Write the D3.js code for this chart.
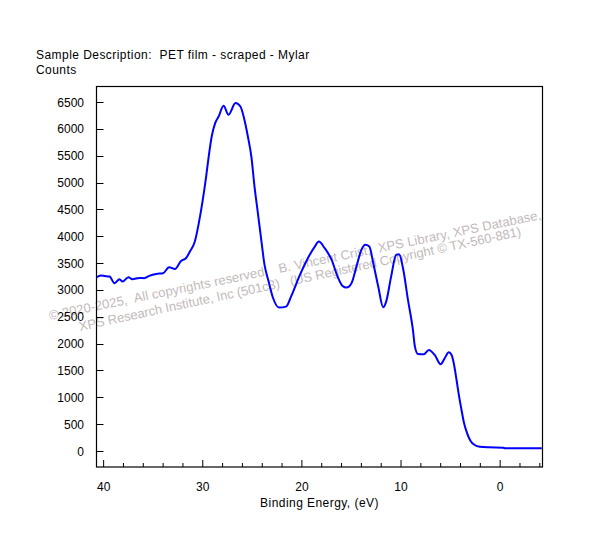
<!DOCTYPE html>
<html><head><meta charset="utf-8">
<script src="https://cdn.jsdelivr.net/npm/d3@7"></script>
<style>body{margin:0;background:#fff}svg{display:block}text{font-family:Arial,"Liberation Sans",sans-serif;white-space:pre}</style>
</head><body>
<script>
const energy = [40.7,40.3,39.9,39.4,38.9,38.4,38.1,37.5,37.1,36.4,35.9,35.4,34.7,34.0,33.4,32.8,32.2,31.7,31.3,30.8,30.4,30.0,29.66,29.4,29.1,28.75,28.4,27.9,27.4,26.7,26.2,25.8,25.45,25.1,24.78,24.44,24.1,23.77,23.4,22.9,22.3,21.6,21.1,20.2,19.4,18.7,18.3,17.7,17.0,16.4,15.9,15.5,15.0,14.5,14.0,13.6,13.2,12.8,12.3,11.8,11.5,11.0,10.5,10.2,9.8,9.3,8.8,8.6,8.3,7.7,7.2,6.6,6.0,5.6,5.18,4.9,4.68,4.4,4.14,3.9,3.64,3.33,3.0,2.56,2.05,1.2,-0.3,-0.5,-2.0,-4.2];
const counts = [3237,3268,3260,3249,3125,3200,3156,3237,3200,3225,3219,3262,3299,3312,3424,3392,3541,3591,3715,3901,4244,4678,5113,5486,5858,6108,6231,6430,6263,6481,6418,6170,5858,5486,4926,4430,3933,3467,3187,2846,2672,2690,2876,3281,3592,3808,3901,3778,3560,3249,3075,3044,3125,3435,3747,3840,3808,3499,3063,2678,2783,3249,3653,3666,3405,2815,2255,1944,1808,1802,1883,1789,1616,1728,1840,1789,1635,1323,1012,764,516,330,192,112,80,68,62,50,50,50];
const xMajor = [40,30,20,10,0];
const xMinor = [38,36,34,32,28,26,24,22,18,16,14,12,8,6,4,2,-2,-4];
const yTicks = [0,500,1000,1500,2000,2500,3000,3500,4000,4500,5000,5500,6000,6500];
const title = "Sample Description:  PET film - scraped - Mylar";
const yTitle = "Counts";
const xTitle = "Binding Energy, (eV)";
const wm1 = "\u00A9 2020-2025,  All copyrights reserved,   B. Vincent Crist,  XPS Library, XPS Database,";
const wm2 = "XPS Research Institute, Inc (501c3)   (US Registered Copyright \u00A9 TX-560-881)";

const W=599,H=541, L=96.5, R=542.5, T=86.5, B=467;
const svg=d3.select("body").append("svg").attr("width",W).attr("height",H);
const x=d3.scaleLinear().domain([40.72,-4.27]).range([L,R]);
const y=d3.scaleLinear().domain([-298,6790]).range([B,T]);

svg.append("text").attr("x",36).attr("y",59).attr("font-size",12).attr("letter-spacing",0.45).text(title);
svg.append("text").attr("x",36).attr("y",74).attr("font-size",12).attr("letter-spacing",0.45).text(yTitle);

// watermark
const wm=svg.append("g").attr("fill","#c3baba").attr("font-size",13);
wm.append("text").attr("transform","translate(50,320) rotate(-11.6)").attr("textLength",502).text(wm1);
wm.append("text").attr("transform","translate(80,331) rotate(-12.2)").attr("textLength",452).text(wm2);

// axes ticks
const g=svg.append("g").attr("stroke","#000").attr("stroke-width",1);
xMajor.forEach(v=>g.append("line").attr("x1",x(v)).attr("x2",x(v)).attr("y1",B).attr("y2",B-7));
xMinor.forEach(v=>g.append("line").attr("x1",x(v)).attr("x2",x(v)).attr("y1",B).attr("y2",B-4));
yTicks.forEach(v=>g.append("line").attr("x1",L).attr("x2",L+7).attr("y1",Math.round(y(v))+0.5).attr("y2",Math.round(y(v))+0.5));

svg.selectAll(".xl").data(xMajor).enter().append("text").attr("x",d=>x(d)).attr("y",491).attr("text-anchor","middle").attr("font-size",12).text(d=>d);
svg.selectAll(".yl").data(yTicks).enter().append("text").attr("x",84).attr("y",d=>y(d)+4.5).attr("text-anchor","end").attr("font-size",12).text(d=>d);
svg.append("text").attr("x",(L+R)/2).attr("y",507).attr("text-anchor","middle").attr("font-size",12).attr("letter-spacing",0.45).text(xTitle);

const data=energy.map((e,i)=>[e,counts[i]]);
svg.append("path").datum(data).attr("fill","none").attr("stroke","#0000ff").attr("stroke-width",2)
  .attr("d",d3.line().x(d=>x(d[0])).y(d=>y(d[1])).curve(d3.curveMonotoneX));

svg.append("rect").attr("x",L).attr("y",T).attr("width",R-L).attr("height",B-T).attr("fill","none").attr("stroke","#000").attr("stroke-width",1.2);
</script>
</body></html>
